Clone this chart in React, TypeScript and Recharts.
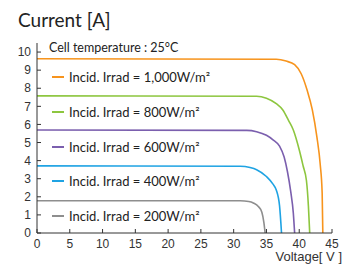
import React from 'react';
import { LineChart, Line, XAxis, YAxis } from 'recharts';

// I-V curves, one pair of arrays per irradiance
const volts1000 = [0, 36.5, 38, 39.3, 40.3, 41.2, 42, 42.7, 43.2, 43.5, 43.6];
const amps1000 = [9.63, 9.6, 9.5, 9.3, 8.8, 7.9, 6.8, 5.3, 3.8, 2.2, 0];
const volts800 = [0, 33.5, 35, 36.5, 37.5, 38.4, 39.1, 40, 40.6, 41.1, 41.4, 41.6];
const amps800 = [7.58, 7.56, 7.45, 7.15, 6.8, 6.2, 5.69, 4.6, 3.7, 2.9, 1.5, 0];
const volts600 = [0, 32, 33.5, 35, 36, 37, 37.7, 38.2, 38.7, 39.1, 39.3];
const amps600 = [5.69, 5.67, 5.6, 5.4, 5.15, 4.8, 4.2, 3.4, 2.3, 1.1, 0];
const volts400 = [0, 31, 32.5, 33.5, 35, 36, 36.5, 37, 37.3];
const amps400 = [3.71, 3.69, 3.62, 3.5, 3.12, 2.7, 2.38, 1.5, 0];
const volts200 = [0, 31, 32.3, 33, 33.8, 34.3, 34.6, 34.8];
const amps200 = [1.78, 1.78, 1.74, 1.66, 1.45, 1.15, 0.6, 0];

const seriesNames = [
  'Incid. Irrad = 1,000W/m²',
  'Incid. Irrad = 800W/m²',
  'Incid. Irrad = 600W/m²',
  'Incid. Irrad = 400W/m²',
  'Incid. Irrad = 200W/m²',
];
const seriesColors = ['#f7941d', '#8dc63f', '#7b5fae', '#1fa3e3', '#8e8e8e'];
const xTicks = [0, 5, 10, 15, 20, 25, 30, 35, 40, 45];
const yTicks = [0, 1, 2, 3, 4, 5, 6, 7, 8, 9, 10];

const zip = (v: number[], a: number[]) => v.map((x, i) => ({ v: x, a: a[i] }));

const curves = [
  zip(volts1000, amps1000),
  zip(volts800, amps800),
  zip(volts600, amps600),
  zip(volts400, amps400),
  zip(volts200, amps200),
];

const font = 'Lato, "Open Sans", sans-serif';
const narrow = '"Liberation Sans Narrow", "Liberation Sans", sans-serif';

// legend sits inside the plot, one row per curve
function IrradLegend() {
  return (
    <div style={{ position: 'absolute', left: 52, top: 60 }}>
      {seriesNames.map((n, i) => (
        <div key={n} style={{ display: 'flex', alignItems: 'center', height: 34.7 }}>
          <span style={{ display: 'inline-block', width: 12, height: 2, background: seriesColors[i], marginRight: 5 }} />
          <span style={{ fontFamily: font, fontSize: 13, color: '#222', whiteSpace: 'nowrap' }}>{n}</span>
        </div>
      ))}
    </div>
  );
}

export default function App() {
  return (
    <div style={{ position: 'absolute', left: 0, top: 0, width: 348, height: 269, background: '#fff' }}>
      <LineChart width={348} height={269} margin={{ top: 43, right: 16, bottom: 0, left: 0 }}>
        <XAxis
          type="number"
          dataKey="v"
          domain={[0, 45]}
          ticks={xTicks}
          interval={0}
          allowDataOverflow
          height={36}
          stroke="#333"
          tickSize={-4}
          tickMargin={10}
          tick={{ fill: '#333', fontSize: 12, fontFamily: narrow }}
        />
        <YAxis
          type="number"
          dataKey="a"
          domain={[0, 10.5]}
          ticks={yTicks}
          interval={0}
          allowDataOverflow
          width={37}
          stroke="#333"
          tickSize={-4}
          tickMargin={10}
          tick={{ fill: '#333', fontSize: 12, fontFamily: narrow }}
        />
        {curves.map((d, i) => (
          <Line
            key={seriesNames[i]}
            data={d}
            dataKey="a"
            name={seriesNames[i]}
            type="monotone"
            stroke={seriesColors[i]}
            strokeWidth={1.6}
            dot={false}
            isAnimationActive={false}
          />
        ))}
      </LineChart>
      <IrradLegend />
      <div style={{ position: 'absolute', left: 18, top: 8, fontFamily: font, fontSize: 19, color: '#222' }}>
        Current [A]
      </div>
      <div style={{ position: 'absolute', left: 49, top: 40, fontFamily: font, fontSize: 12.5, color: '#222' }}>
        Cell temperature : 25°C
      </div>
      <div style={{ position: 'absolute', right: 6, top: 249, fontFamily: narrow, fontSize: 13, color: '#333' }}>
        Voltage[ V ]
      </div>
    </div>
  );
}
